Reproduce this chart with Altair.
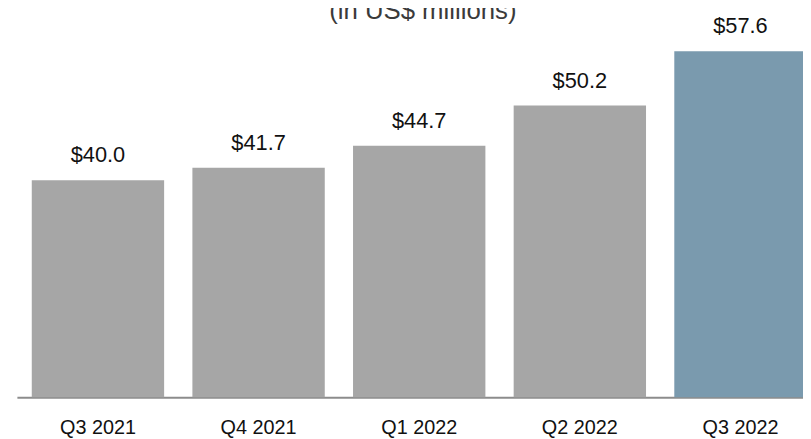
import altair as alt
import pandas as pd

quarters = ["Q3 2021", "Q4 2021", "Q1 2022", "Q2 2022", "Q3 2022"]
revenue = [40.0, 41.7, 44.7, 50.2, 57.6]
highlight = "Q3 2022"
title_text = ["(in US$ millions)"]

df = pd.DataFrame({"quarter": quarters, "revenue": revenue})
title_df = pd.DataFrame({"title": title_text})

FONT = "Liberation Sans, Arial, sans-serif"
GRAY = "#a6a6a6"
BLUE = "#7a9aae"
Y_MIN = 10.37
Y_MAX = 62.0

base = alt.Chart(df).encode(
    x=alt.X(
        "quarter:N",
        sort=quarters,
        scale=alt.Scale(paddingInner=0.176, paddingOuter=0.0925),
        axis=alt.Axis(
            title=None,
            domainColor="#8c8c8c",
            domainWidth=2,
            ticks=False,
            tickSize=0,
            labelFont=FONT,
            labelFontSize=20,
            labelColor="#111111",
            labelPadding=37,
            labelBaseline="alphabetic",
            labelAngle=0,
        ),
    )
)

bars = base.mark_bar().encode(
    y=alt.Y(
        "revenue:Q",
        scale=alt.Scale(domain=[Y_MIN, Y_MAX], zero=False, nice=False),
        axis=None,
    ),
    y2=alt.datum(Y_MIN),
    color=alt.condition(alt.datum.quarter == highlight, alt.value(BLUE), alt.value(GRAY)),
)

labels = base.mark_text(
    dy=-18, baseline="alphabetic", fontSize=22, font=FONT, color="#111111"
).encode(
    y=alt.Y("revenue:Q"),
    text=alt.Text("revenue:Q", format="$.1f"),
)

title = alt.Chart(title_df).mark_text(
    baseline="alphabetic", align="center", fontSize=26, font=FONT, color="#3a3a3a"
).encode(
    x=alt.value(410),
    y=alt.value(0),
    text="title:N",
)

chart = (
    alt.layer(bars, labels, title)
    .properties(
        width=812.7,
        height=382,
        autosize=alt.AutoSizeParams(type="none"),
        padding={"left": 9, "top": 9, "right": -18.7, "bottom": 39},
    )
    .configure_view(stroke=None)
)

chart.save("out.html", embed_options={"renderer": "svg", "actions": False})
